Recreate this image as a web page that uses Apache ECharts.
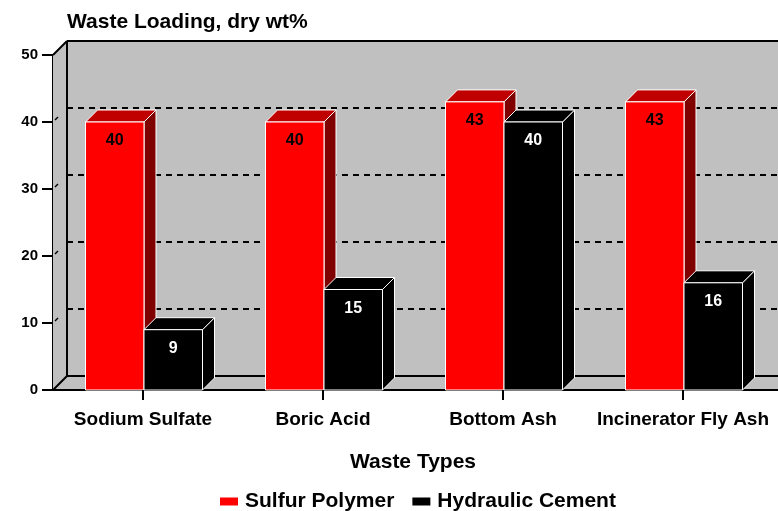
<!DOCTYPE html>
<html>
<head>
<meta charset="utf-8">
<script src="https://cdn.jsdelivr.net/npm/echarts@6/dist/echarts.min.js"></script>
<style>
html,body{margin:0;padding:0;background:#fff;}
#chart{width:778px;height:511px;}
</style>
</head>
<body>
<div id="chart"></div>
<script>
const categories = ['Sodium Sulfate', 'Boric Acid', 'Bottom Ash', 'Incinerator Fly Ash'];
const sulfurPolymer = [40, 40, 43, 43];
const hydraulicCement = [9, 15, 40, 16];
const yTicks = [0, 10, 20, 30, 40, 50];
const seriesNames = ['Sulfur Polymer', 'Hydraulic Cement'];

const FONT = 'Liberation Sans, Arial, Helvetica, sans-serif';
const DEPTH_WALL = 14;
const DEPTH_BAR = 12;
const GRAY = '#c0c0c0';

const chart = echarts.init(document.getElementById('chart'), null, {renderer: 'canvas'});

function barRenderer(side, front, topC, sideC, labelColor) {
  return function (params, api) {
    const idx = api.value(0);
    const v = api.value(1);
    const base = api.coord([idx, 0]);
    const top = api.coord([idx, v]);
    const band = api.size([1, 0])[0];
    const w = band * 0.325;
    const cx = base[0] + 1;
    const x0 = side === 0 ? cx - w : cx;
    const x1 = x0 + w;
    const yb = base[1];
    const yt = top[1];
    const d = DEPTH_BAR;
    const stroke = {stroke: '#ffffff', lineWidth: 1};
    return {
      type: 'group',
      children: [
        {type: 'polygon', shape: {points: [[x1, yt], [x1 + d, yt - d], [x1 + d, yb - d], [x1, yb]]},
          style: Object.assign({fill: sideC}, stroke)},
        {type: 'polygon', shape: {points: [[x0, yt], [x1, yt], [x1 + d, yt - d], [x0 + d, yt - d]]},
          style: Object.assign({fill: topC}, stroke)},
        {type: 'rect', shape: {x: x0, y: yt, width: w, height: yb - yt},
          style: Object.assign({fill: front}, stroke)},
        {type: 'text', x: (x0 + x1) / 2, y: yt + 19,
          style: {text: String(v), fill: labelColor, font: 'bold 16px ' + FONT, align: 'center', verticalAlign: 'middle'}}
      ]
    };
  };
}

function frameRenderer(params, api) {
  const cs = params.coordSys;
  const L = cs.x, T = cs.y, B = cs.y + cs.height, R = 800;
  const D = DEPTH_WALL;
  const line = (x1, y1, x2, y2) => ({type: 'line', shape: {x1, y1, x2, y2}, style: {stroke: '#000', lineWidth: 2}});
  const children = [
    {type: 'polygon', shape: {points: [[L, B], [L, T], [L + D, T - D], [L + D, B - D]]}, style: {fill: GRAY}},
    {type: 'polygon', shape: {points: [[L, B], [R, B], [R, B - D], [L + D, B - D]]}, style: {fill: GRAY}},
    line(L + D, B - D, R, B - D),
    line(L + D, T - D, L + D, B - D),
    line(L + D, T - D, R, T - D),
    line(L, T, L + D, T - D),
    line(L, B, L + D, B - D),
    line(L, B, R, B)
  ];
  yTicks.forEach(function (t) {
    if (t === 0 || t === yTicks[yTicks.length - 1]) return;
    const y = api.coord([0, t])[1];
    children.push({type: 'line', shape: {x1: L + 2, y1: y - 2, x2: L + 5, y2: y - 5}, style: {stroke: '#000', lineWidth: 1.5}});
  });
  return {type: 'group', children: children};
}

const option = {
  animation: false,
  backgroundColor: '#ffffff',
  title: {
    text: 'Waste Loading, dry wt%',
    left: 62, top: 7,
    textStyle: {fontFamily: FONT, fontSize: 21, fontWeight: 'bold', color: '#000'}
  },
  legend: {
    left: 215, top: 486,
    itemWidth: 18, itemHeight: 8, itemGap: 18,
    icon: 'rect',
    data: seriesNames,
    textStyle: {fontFamily: FONT, fontSize: 21, fontWeight: 'bold', color: '#000', padding: [0, 0, 0, 2]}
  },
  grid: [
    {left: 53, right: 5, top: 55, bottom: 121, containLabel: false},
    {left: 67, right: -3, top: 41, bottom: 135, show: true, backgroundColor: GRAY, borderWidth: 0}
  ],
  xAxis: [
    {
      type: 'category', gridIndex: 0, data: categories, z: 10,
      name: 'Waste Types', nameLocation: 'middle', nameGap: 62,
      nameTextStyle: {fontFamily: FONT, fontSize: 21, fontWeight: 'bold', color: '#000'},
      axisLine: {show: false},
      axisTick: {show: true, alignWithLabel: true, interval: 0, length: 10, lineStyle: {color: '#000', width: 2}},
      axisLabel: {interval: 0, margin: 20, fontFamily: FONT, fontSize: 19, fontWeight: 'bold', color: '#000'},
      splitLine: {show: false}
    },
    {
      type: 'category', gridIndex: 1, data: categories, show: false
    }
  ],
  yAxis: [
    {
      type: 'value', gridIndex: 0, min: 0, max: 50, interval: 10,
      axisLine: {show: true, lineStyle: {color: '#000', width: 2}},
      axisTick: {show: true, length: 11, lineStyle: {color: '#000', width: 2}},
      axisLabel: {margin: 15, fontFamily: FONT, fontSize: 15, fontWeight: 'bold', color: '#000'},
      splitLine: {show: false}
    },
    {
      type: 'value', gridIndex: 1, min: 0, max: 50, interval: 10,
      axisLine: {show: false}, axisTick: {show: false}, axisLabel: {show: false},
      splitLine: {show: true, lineStyle: {color: '#000', width: 2, type: [6, 5]}}
    }
  ],
  series: [
    {
      type: 'custom', name: 'frame', xAxisIndex: 0, yAxisIndex: 0, z: 1,
      renderItem: frameRenderer, data: [[0, 0]], silent: true, legendHoverLink: false
    },
    {
      type: 'custom', name: seriesNames[0], xAxisIndex: 0, yAxisIndex: 0, z: 3,
      itemStyle: {color: '#ff0000'},
      renderItem: barRenderer(0, '#ff0000', '#c00000', '#800000', '#000000'),
      data: sulfurPolymer.map((v, i) => [i, v])
    },
    {
      type: 'custom', name: seriesNames[1], xAxisIndex: 0, yAxisIndex: 0, z: 4,
      itemStyle: {color: '#000000'},
      renderItem: barRenderer(1, '#000000', '#000000', '#000000', '#ffffff'),
      data: hydraulicCement.map((v, i) => [i, v])
    }
  ]
};
chart.setOption(option);
</script>
</body>
</html>
